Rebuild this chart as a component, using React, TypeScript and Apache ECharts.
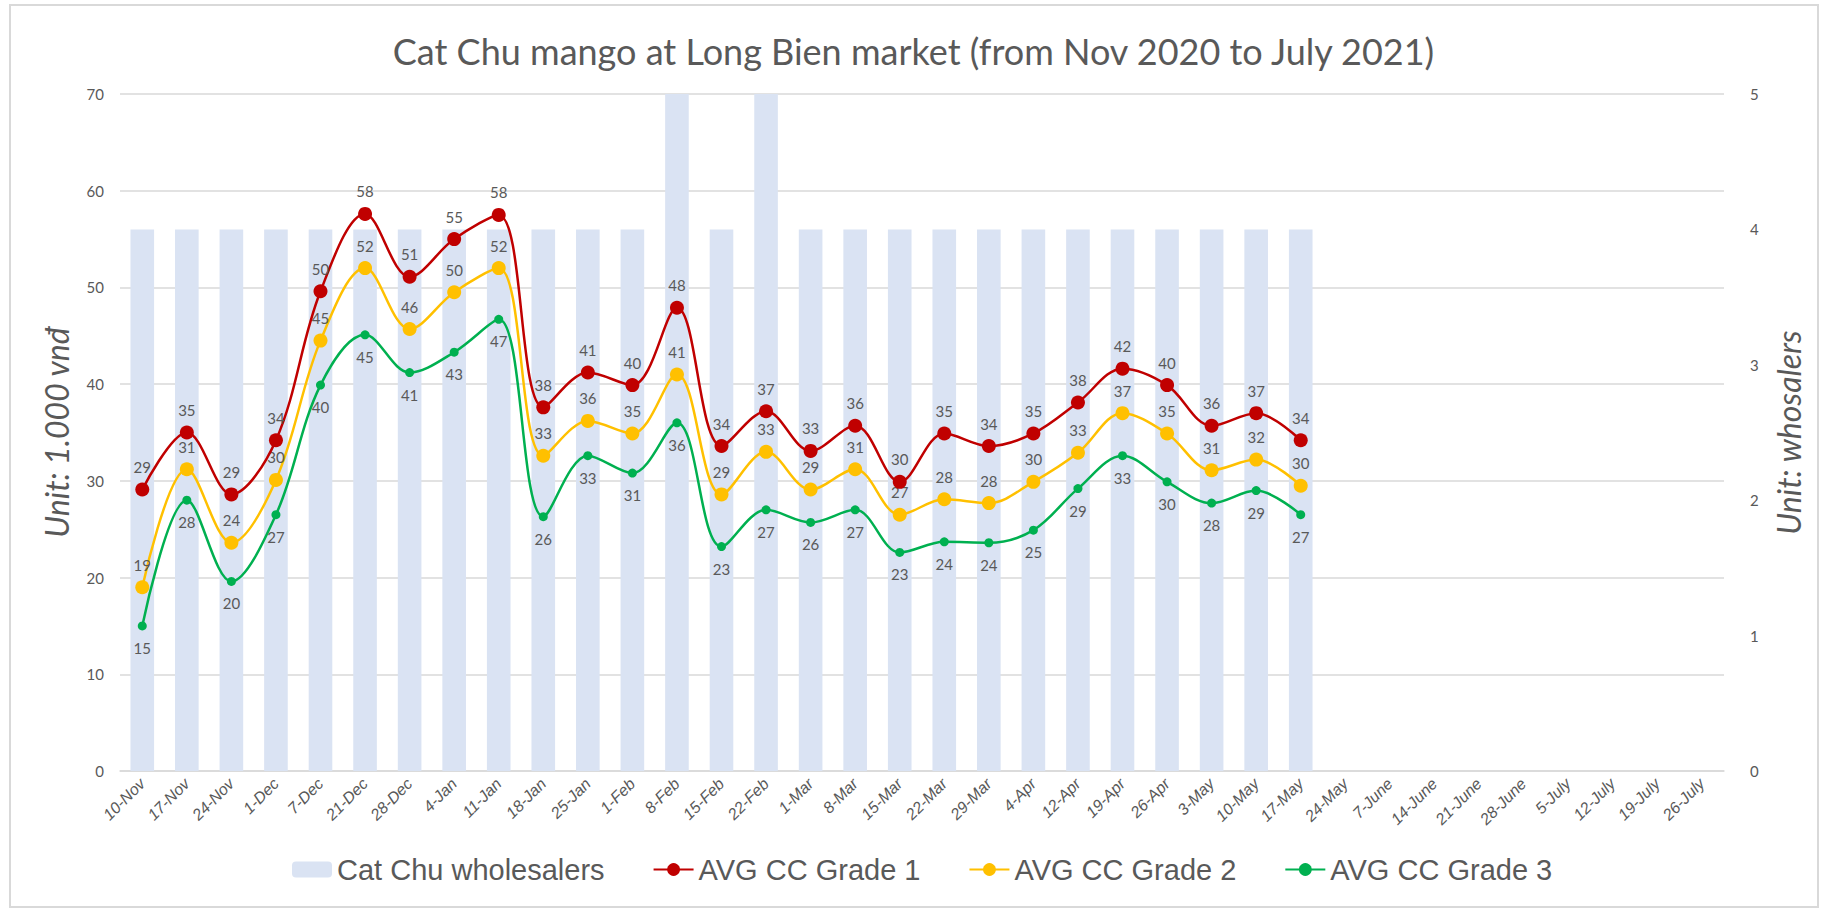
import React, { useEffect, useRef } from "react";
import * as echarts from "echarts";

const categories = [
  "10-Nov", "17-Nov", "24-Nov", "1-Dec", "7-Dec", "21-Dec", "28-Dec", "4-Jan", "11-Jan",
  "18-Jan", "25-Jan", "1-Feb", "8-Feb", "15-Feb", "22-Feb", "1-Mar", "8-Mar", "15-Mar",
  "22-Mar", "29-Mar", "4-Apr", "12-Apr", "19-Apr", "26-Apr", "3-May", "10-May", "17-May",
  "24-May", "7-June", "14-June", "21-June", "28-June", "5-July", "12-July", "19-July", "26-July",
];

const wholesalers = [4, 4, 4, 4, 4, 4, 4, 4, 4, 4, 4, 4, 5, 4, 5, 4, 4, 4, 4, 4, 4, 4, 4, 4, 4, 4, 4];

const grade1 = [
  29.1, 35.0, 28.6, 34.2, 49.6, 57.6, 51.1, 55.0, 57.5, 37.6, 41.2, 39.9, 47.9, 33.6,
  37.2, 33.1, 35.7, 29.9, 34.9, 33.6, 34.9, 38.1, 41.6, 39.9, 35.7, 37.0, 34.2,
];
const grade2 = [
  19.0, 31.2, 23.6, 30.1, 44.5, 52.0, 45.7, 49.5, 52.0, 32.6, 36.2, 34.9, 41.0, 28.6,
  33.0, 29.1, 31.2, 26.5, 28.1, 27.7, 29.9, 32.9, 37.0, 34.9, 31.1, 32.2, 29.5,
];
const grade3 = [
  15.0, 28.0, 19.6, 26.5, 39.9, 45.1, 41.2, 43.3, 46.7, 26.3, 32.6, 30.8, 36.0, 23.2,
  27.0, 25.7, 27.0, 22.6, 23.7, 23.6, 24.9, 29.2, 32.6, 29.9, 27.7, 29.0, 26.5,
];

const GRAY = "#595959";
const GRID = "#d9d9d9";

export default function App() {
  const ref = useRef<HTMLDivElement>(null);
  useEffect(() => {
    if (!ref.current) return;
    const chart = echarts.init(ref.current, undefined, { renderer: "svg" });
    const labelCommon = {
      show: true,
      color: GRAY,
      fontFamily: "Lato",
      fontSize: 15,
      formatter: (p: any) => String(Math.round(p.value)),
    };
    chart.setOption({
      animation: false,
      backgroundColor: "#ffffff",
      title: {
        text: "Cat Chu mango at Long Bien market (from Nov 2020 to July 2021)",
        left: "center",
        top: 28,
        textStyle: { color: GRAY, fontFamily: "Lato", fontSize: 36, fontWeight: "normal" },
      },
      graphic: [
        {
          type: "rect",
          shape: { x: 10, y: 5, width: 1808, height: 902 },
          style: { fill: "none", stroke: GRID, lineWidth: 2 },
          silent: true,
        },
      ],
      legend: {
        bottom: 22,
        left: 287,
        itemGap: 48,
        itemWidth: 40,
        itemHeight: 16,
        textStyle: { color: GRAY, fontFamily: "Liberation Sans", fontSize: 29 },
        data: ["Cat Chu wholesalers", "AVG CC Grade 1", "AVG CC Grade 2", "AVG CC Grade 3"],
      },
      grid: { left: 120, right: 103, top: 94, bottom: 140, containLabel: false },
      xAxis: {
        type: "category",
        data: categories,
        boundaryGap: true,
        axisTick: { show: false },
        axisLine: { lineStyle: { color: GRID, width: 1.5 } },
        axisLabel: {
          rotate: 45,
          interval: 0,
          color: GRAY,
          fontFamily: "Liberation Sans",
          fontStyle: "italic",
          fontSize: 16,
          margin: 10,
        },
      },
      yAxis: [
        {
          type: "value",
          min: 0,
          max: 70,
          interval: 10,
          name: "Unit: 1.000 vnđ",
          nameLocation: "middle",
          nameGap: 48,
          nameTextStyle: { color: GRAY, fontFamily: "Lato", fontStyle: "italic", fontSize: 32 },
          axisLine: { show: false },
          axisTick: { show: false },
          axisLabel: { color: GRAY, fontFamily: "Lato", fontSize: 15, margin: 16 },
          splitLine: { lineStyle: { color: GRID, width: 1.5 } },
        },
        {
          type: "value",
          min: 0,
          max: 5,
          interval: 1,
          name: "Unit: whosalers",
          nameLocation: "middle",
          nameGap: 48,
          nameRotate: 90,
          nameTextStyle: { color: GRAY, fontFamily: "Lato", fontStyle: "italic", fontSize: 32 },
          axisLine: { show: false },
          axisTick: { show: false },
          axisLabel: { color: GRAY, fontFamily: "Lato", fontSize: 15, margin: 26 },
          splitLine: { show: false },
        },
      ],
      series: [
        {
          name: "Cat Chu wholesalers",
          type: "bar",
          yAxisIndex: 1,
          data: wholesalers,
          barWidth: "53%",
          itemStyle: { color: "#DAE3F3" },
          z: 1,
        },
        {
          name: "AVG CC Grade 1",
          type: "line",
          data: grade1,
          smooth: 0.35,
          symbol: "circle",
          symbolSize: 14,
          lineStyle: { color: "#C00000", width: 2.5 },
          itemStyle: { color: "#C00000" },
          label: { ...labelCommon, position: "top", distance: 8 },
          z: 4,
        },
        {
          name: "AVG CC Grade 2",
          type: "line",
          data: grade2,
          smooth: 0.35,
          symbol: "circle",
          symbolSize: 14,
          lineStyle: { color: "#FFC000", width: 2.5 },
          itemStyle: { color: "#FFC000" },
          label: { ...labelCommon, position: "top", distance: 8 },
          z: 3,
        },
        {
          name: "AVG CC Grade 3",
          type: "line",
          data: grade3,
          smooth: 0.35,
          symbol: "circle",
          symbolSize: 9,
          lineStyle: { color: "#00B050", width: 2.5 },
          itemStyle: { color: "#00B050" },
          label: { ...labelCommon, position: "bottom", distance: 10 },
          z: 2,
        },
      ],
    });
    return () => chart.dispose();
  }, []);
  return (
    <div
      ref={ref}
      style={{ position: "fixed", left: 0, top: 0, width: 1827, height: 911, background: "#fff" }}
    />
  );
}
